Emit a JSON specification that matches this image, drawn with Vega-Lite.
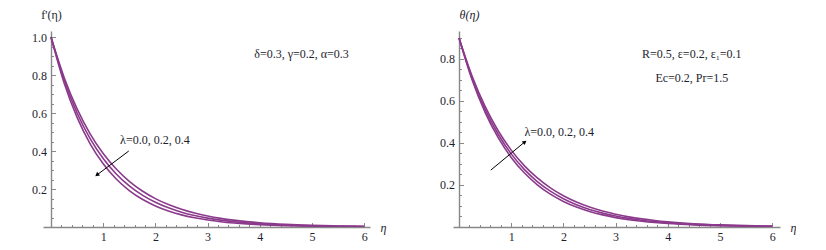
{
  "$schema": "https://vega.github.io/schema/vega-lite/v6.json",
  "padding": {"left": 31, "top": 8, "right": 0, "bottom": 0},
  "background": "white",
  "bounds": "flush",
  "spacing": 83,
  "config": {
    "font": "'Liberation Serif', 'DejaVu Serif', serif",
    "view": {"stroke": null},
    "text": {"font": "'Liberation Serif', 'DejaVu Serif', serif"},
    "axis": {
      "domainColor": "#888888", "domainWidth": 1.4, "tickColor": "#888888", "tickWidth": 1,
      "grid": false, "labelFont": "'Liberation Serif', 'DejaVu Serif', serif", "labelFontSize": 12, "labelColor": "#1e1e2e",
      "titleFont": "'Liberation Serif', 'DejaVu Serif', serif", "titleFontSize": 12, "titleFontWeight": "normal", "titleColor": "#1e1e2e"
    }
  },
  "datasets": {
    "fprime": [
      {"eta": 0, "lambda": "0.0", "value": 1}, {"eta": 0.25, "lambda": "0.0", "value": 0.7886}, {"eta": 0.5, "lambda": "0.0", "value": 0.6219}, {"eta": 0.75, "lambda": "0.0", "value": 0.4904}, {"eta": 1, "lambda": "0.0", "value": 0.3867}, {"eta": 1.25, "lambda": "0.0", "value": 0.305}, {"eta": 1.5, "lambda": "0.0", "value": 0.2405}, {"eta": 1.75, "lambda": "0.0", "value": 0.1896}, {"eta": 2, "lambda": "0.0", "value": 0.1496}, {"eta": 2.25, "lambda": "0.0", "value": 0.118}, {"eta": 2.5, "lambda": "0.0", "value": 0.093}, {"eta": 2.75, "lambda": "0.0", "value": 0.0733}, {"eta": 3, "lambda": "0.0", "value": 0.0578}, {"eta": 3.25, "lambda": "0.0", "value": 0.0456}, {"eta": 3.5, "lambda": "0.0", "value": 0.036}, {"eta": 3.75, "lambda": "0.0", "value": 0.0284}, {"eta": 4, "lambda": "0.0", "value": 0.0224}, {"eta": 4.5, "lambda": "0.0", "value": 0.0139}, {"eta": 5, "lambda": "0.0", "value": 0.0087}, {"eta": 5.5, "lambda": "0.0", "value": 0.0054}, {"eta": 6, "lambda": "0.0", "value": 0.0033},
      {"eta": 0, "lambda": "0.2", "value": 1}, {"eta": 0.25, "lambda": "0.2", "value": 0.7749}, {"eta": 0.5, "lambda": "0.2", "value": 0.6005}, {"eta": 0.75, "lambda": "0.2", "value": 0.4653}, {"eta": 1, "lambda": "0.2", "value": 0.3606}, {"eta": 1.25, "lambda": "0.2", "value": 0.2794}, {"eta": 1.5, "lambda": "0.2", "value": 0.2165}, {"eta": 1.75, "lambda": "0.2", "value": 0.1678}, {"eta": 2, "lambda": "0.2", "value": 0.13}, {"eta": 2.25, "lambda": "0.2", "value": 0.1008}, {"eta": 2.5, "lambda": "0.2", "value": 0.0781}, {"eta": 2.75, "lambda": "0.2", "value": 0.0605}, {"eta": 3, "lambda": "0.2", "value": 0.0469}, {"eta": 3.25, "lambda": "0.2", "value": 0.0363}, {"eta": 3.5, "lambda": "0.2", "value": 0.0282}, {"eta": 3.75, "lambda": "0.2", "value": 0.0218}, {"eta": 4, "lambda": "0.2", "value": 0.0169}, {"eta": 4.5, "lambda": "0.2", "value": 0.0102}, {"eta": 5, "lambda": "0.2", "value": 0.0061}, {"eta": 5.5, "lambda": "0.2", "value": 0.0037}, {"eta": 6, "lambda": "0.2", "value": 0.0022},
      {"eta": 0, "lambda": "0.4", "value": 1}, {"eta": 0.25, "lambda": "0.4", "value": 0.7596}, {"eta": 0.5, "lambda": "0.4", "value": 0.5769}, {"eta": 0.75, "lambda": "0.4", "value": 0.4382}, {"eta": 1, "lambda": "0.4", "value": 0.3329}, {"eta": 1.25, "lambda": "0.4", "value": 0.2528}, {"eta": 1.5, "lambda": "0.4", "value": 0.192}, {"eta": 1.75, "lambda": "0.4", "value": 0.1459}, {"eta": 2, "lambda": "0.4", "value": 0.1108}, {"eta": 2.25, "lambda": "0.4", "value": 0.0842}, {"eta": 2.5, "lambda": "0.4", "value": 0.0639}, {"eta": 2.75, "lambda": "0.4", "value": 0.0486}, {"eta": 3, "lambda": "0.4", "value": 0.0369}, {"eta": 3.25, "lambda": "0.4", "value": 0.028}, {"eta": 3.5, "lambda": "0.4", "value": 0.0213}, {"eta": 3.75, "lambda": "0.4", "value": 0.0162}, {"eta": 4, "lambda": "0.4", "value": 0.0123}, {"eta": 4.5, "lambda": "0.4", "value": 0.0071}, {"eta": 5, "lambda": "0.4", "value": 0.0041}, {"eta": 5.5, "lambda": "0.4", "value": 0.0024}, {"eta": 6, "lambda": "0.4", "value": 0.0014}
    ],
    "theta": [
      {"eta": 0, "lambda": "0.0", "value": 0.9}, {"eta": 0.25, "lambda": "0.0", "value": 0.7009}, {"eta": 0.5, "lambda": "0.0", "value": 0.5459}, {"eta": 0.75, "lambda": "0.0", "value": 0.4252}, {"eta": 1, "lambda": "0.0", "value": 0.3311}, {"eta": 1.25, "lambda": "0.0", "value": 0.2579}, {"eta": 1.5, "lambda": "0.0", "value": 0.2009}, {"eta": 1.75, "lambda": "0.0", "value": 0.1564}, {"eta": 2, "lambda": "0.0", "value": 0.1218}, {"eta": 2.25, "lambda": "0.0", "value": 0.0949}, {"eta": 2.5, "lambda": "0.0", "value": 0.0739}, {"eta": 2.75, "lambda": "0.0", "value": 0.0576}, {"eta": 3, "lambda": "0.0", "value": 0.0448}, {"eta": 3.25, "lambda": "0.0", "value": 0.0349}, {"eta": 3.5, "lambda": "0.0", "value": 0.0272}, {"eta": 3.75, "lambda": "0.0", "value": 0.0212}, {"eta": 4, "lambda": "0.0", "value": 0.0165}, {"eta": 4.5, "lambda": "0.0", "value": 0.01}, {"eta": 5, "lambda": "0.0", "value": 0.0061}, {"eta": 5.5, "lambda": "0.0", "value": 0.0037}, {"eta": 6, "lambda": "0.0", "value": 0.0023},
      {"eta": 0, "lambda": "0.2", "value": 0.9}, {"eta": 0.25, "lambda": "0.2", "value": 0.7097}, {"eta": 0.5, "lambda": "0.2", "value": 0.5597}, {"eta": 0.75, "lambda": "0.2", "value": 0.4414}, {"eta": 1, "lambda": "0.2", "value": 0.348}, {"eta": 1.25, "lambda": "0.2", "value": 0.2745}, {"eta": 1.5, "lambda": "0.2", "value": 0.2165}, {"eta": 1.75, "lambda": "0.2", "value": 0.1706}, {"eta": 2, "lambda": "0.2", "value": 0.1346}, {"eta": 2.25, "lambda": "0.2", "value": 0.1062}, {"eta": 2.5, "lambda": "0.2", "value": 0.0837}, {"eta": 2.75, "lambda": "0.2", "value": 0.066}, {"eta": 3, "lambda": "0.2", "value": 0.052}, {"eta": 3.25, "lambda": "0.2", "value": 0.041}, {"eta": 3.5, "lambda": "0.2", "value": 0.0324}, {"eta": 3.75, "lambda": "0.2", "value": 0.0256}, {"eta": 4, "lambda": "0.2", "value": 0.0202}, {"eta": 4.5, "lambda": "0.2", "value": 0.0125}, {"eta": 5, "lambda": "0.2", "value": 0.0078}, {"eta": 5.5, "lambda": "0.2", "value": 0.0049}, {"eta": 6, "lambda": "0.2", "value": 0.003},
      {"eta": 0, "lambda": "0.4", "value": 0.9}, {"eta": 0.25, "lambda": "0.4", "value": 0.7187}, {"eta": 0.5, "lambda": "0.4", "value": 0.5739}, {"eta": 0.75, "lambda": "0.4", "value": 0.4583}, {"eta": 1, "lambda": "0.4", "value": 0.366}, {"eta": 1.25, "lambda": "0.4", "value": 0.2922}, {"eta": 1.5, "lambda": "0.4", "value": 0.2334}, {"eta": 1.75, "lambda": "0.4", "value": 0.1863}, {"eta": 2, "lambda": "0.4", "value": 0.1488}, {"eta": 2.25, "lambda": "0.4", "value": 0.1188}, {"eta": 2.5, "lambda": "0.4", "value": 0.0949}, {"eta": 2.75, "lambda": "0.4", "value": 0.0758}, {"eta": 3, "lambda": "0.4", "value": 0.0605}, {"eta": 3.25, "lambda": "0.4", "value": 0.0483}, {"eta": 3.5, "lambda": "0.4", "value": 0.0386}, {"eta": 3.75, "lambda": "0.4", "value": 0.0308}, {"eta": 4, "lambda": "0.4", "value": 0.0246}, {"eta": 4.5, "lambda": "0.4", "value": 0.0157}, {"eta": 5, "lambda": "0.4", "value": 0.01}, {"eta": 5.5, "lambda": "0.4", "value": 0.0064}, {"eta": 6, "lambda": "0.4", "value": 0.0041}
    ]
  },
  "hconcat": [
    {
      "width": 327, "height": 196,
      "resolve": {"axis": {"x": "independent", "y": "independent"}},
      "layer": [
        {
          "data": {"name": "fprime"},
          "mark": {"type": "line", "color": "#8b3a8b", "strokeWidth": 1.6, "interpolate": "monotone", "clip": true},
          "encoding": {
            "x": {"field": "eta", "type": "quantitative", "scale": {"domain": [-0.153, 6.111], "nice": false, "zero": false},
                  "axis": {"orient": "bottom", "values": [1, 2, 3, 4, 5, 6], "format": "d", "tickSize": -4.5, "labelPadding": 9, "labelFlush": false,
                           "title": "η", "titleX": 337, "titleY": 0, "titleAlign": "left", "titleBaseline": "middle", "titleFontStyle": "italic"}},
            "y": {"field": "value", "type": "quantitative", "scale": {"domain": [0, 1.032], "nice": false},
                  "axis": {"orient": "left", "offset": -8, "values": [0.2, 0.4, 0.6, 0.8, 1.0], "format": ".1f", "tickSize": -4.5, "labelPadding": 9, "labelFlush": false,
                           "title": "f'(η)", "titleAngle": 0, "titleX": 0, "titleY": -17, "titleAlign": "center", "titleBaseline": "middle"}},
            "detail": {"field": "lambda"}
          }
        },
        {
          "data": {"values": [{"eta": 4.8, "y": 0.91, "t": "δ=0.3, γ=0.2, α=0.3"}, {"eta": 1.99, "y": 0.458, "t": "λ=0.0, 0.2, 0.4"}]},
          "mark": {"type": "text", "fontSize": 12, "color": "#1e1e2e", "font": "'Liberation Serif', 'DejaVu Serif', serif"},
          "encoding": {
            "x": {"field": "eta", "type": "quantitative",
                  "axis": {"orient": "bottom", "values": [0.2,0.4,0.6,0.8,1.2,1.4,1.6,1.8,2.2,2.4,2.6,2.8,3.2,3.4,3.6,3.8,4.2,4.4,4.6,4.8,5.2,5.4,5.6,5.8], "labels": false, "domain": false, "tickSize": -2.5, "title": null}},
            "y": {"field": "y", "type": "quantitative",
                  "axis": {"orient": "left", "offset": -8, "values": [0.05,0.1,0.15,0.25,0.3,0.35,0.45,0.5,0.55,0.65,0.7,0.75,0.85,0.9,0.95], "labels": false, "domain": false, "tickSize": -2.5, "title": null}},
            "text": {"field": "t"}
          }
        },
        {
          "data": {"values": [{"xa": 1.49, "ya": 0.40, "xb": 0.88, "yb": 0.274}]},
          "mark": {"type": "rule", "color": "#000000", "strokeWidth": 1},
          "encoding": {
            "x": {"field": "xa", "type": "quantitative", "axis": null},
            "y": {"field": "ya", "type": "quantitative", "axis": null},
            "x2": {"field": "xb"}, "y2": {"field": "yb"}
          }
        },
        {
          "data": {"values": [{"xb": 0.88, "yb": 0.274}]},
          "mark": {"type": "point", "shape": "triangle-up", "filled": true, "color": "#000000", "size": 22, "angle": 233, "opacity": 1},
          "encoding": {
            "x": {"field": "xb", "type": "quantitative", "axis": null},
            "y": {"field": "yb", "type": "quantitative", "axis": null}
          }
        }
      ]
    },
    {
      "width": 327, "height": 196,
      "resolve": {"axis": {"x": "independent", "y": "independent"}},
      "layer": [
        {
          "data": {"name": "theta"},
          "mark": {"type": "line", "color": "#8b3a8b", "strokeWidth": 1.6, "interpolate": "monotone", "clip": true},
          "encoding": {
            "x": {"field": "eta", "type": "quantitative", "scale": {"domain": [-0.115, 6.149], "nice": false, "zero": false},
                  "axis": {"orient": "bottom", "values": [1, 2, 3, 4, 5, 6], "format": "d", "tickSize": -4.5, "labelPadding": 9, "labelFlush": false,
                           "title": "η", "titleX": 337, "titleY": 0, "titleAlign": "left", "titleBaseline": "middle", "titleFontStyle": "italic"}},
            "y": {"field": "value", "type": "quantitative", "scale": {"domain": [0, 0.933], "nice": false},
                  "axis": {"orient": "left", "offset": -6, "values": [0.2, 0.4, 0.6, 0.8], "format": ".1f", "tickSize": -4.5, "labelPadding": 9, "labelFlush": false,
                           "title": "θ(η)", "titleAngle": 0, "titleX": 10, "titleY": -17, "titleAlign": "center", "titleBaseline": "middle", "titleFontStyle": "italic"}},
            "detail": {"field": "lambda"}
          }
        },
        {
          "data": {"values": [{"eta": 4.46, "y": 0.824, "t": "R=0.5, ε=0.2, ε₁=0.1"}, {"eta": 4.46, "y": 0.71, "t": "Ec=0.2, Pr=1.5"}, {"eta": 1.92, "y": 0.452, "t": "λ=0.0, 0.2, 0.4"}]},
          "mark": {"type": "text", "fontSize": 12, "color": "#1e1e2e", "font": "'Liberation Serif', 'DejaVu Serif', serif"},
          "encoding": {
            "x": {"field": "eta", "type": "quantitative",
                  "axis": {"orient": "bottom", "values": [0.2,0.4,0.6,0.8,1.2,1.4,1.6,1.8,2.2,2.4,2.6,2.8,3.2,3.4,3.6,3.8,4.2,4.4,4.6,4.8,5.2,5.4,5.6,5.8], "labels": false, "domain": false, "tickSize": -2.5, "title": null}},
            "y": {"field": "y", "type": "quantitative",
                  "axis": {"orient": "left", "offset": -6, "values": [0.05,0.1,0.15,0.25,0.3,0.35,0.45,0.5,0.55,0.65,0.7,0.75,0.85,0.9], "labels": false, "domain": false, "tickSize": -2.5, "title": null}},
            "text": {"field": "t"}
          }
        },
        {
          "data": {"values": [{"xa": 0.61, "ya": 0.271, "xb": 1.26, "yb": 0.405}]},
          "mark": {"type": "rule", "color": "#000000", "strokeWidth": 1},
          "encoding": {
            "x": {"field": "xa", "type": "quantitative", "axis": null},
            "y": {"field": "ya", "type": "quantitative", "axis": null},
            "x2": {"field": "xb"}, "y2": {"field": "yb"}
          }
        },
        {
          "data": {"values": [{"xb": 1.26, "yb": 0.405}]},
          "mark": {"type": "point", "shape": "triangle-up", "filled": true, "color": "#000000", "size": 22, "angle": 50.5, "opacity": 1},
          "encoding": {
            "x": {"field": "xb", "type": "quantitative", "axis": null},
            "y": {"field": "yb", "type": "quantitative", "axis": null}
          }
        }
      ]
    }
  ]
}
